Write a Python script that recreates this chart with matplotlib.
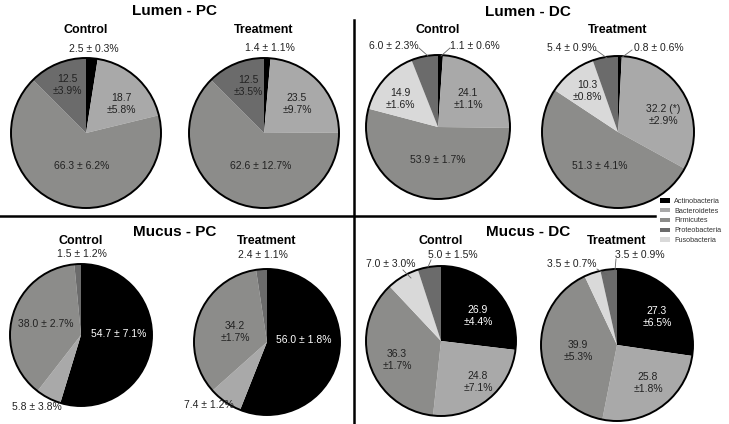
import matplotlib.pyplot as plt
from matplotlib.patches import Circle, Patch
import numpy as np

plt.rcParams['font.family'] = ['Liberation Sans', 'DejaVu Sans']

W, H = 729, 424

# phyla in pie order (clockwise from 12 o'clock)
phyla = ["Actinobacteria", "Bacteroidetes", "Firmicutes", "Fusobacteria", "Proteobacteria"]
colors = {"Actinobacteria": "#000000", "Bacteroidetes": "#a9a9a9", "Firmicutes": "#8c8c8a",
          "Proteobacteria": "#6b6b6b", "Fusobacteria": "#d9d9d9"}
legend_order = ["Actinobacteria", "Bacteroidetes", "Firmicutes", "Proteobacteria", "Fusobacteria"]

# relative abundance (%)
lumen_pc_control = [2.5, 18.7, 66.3, 0.0, 12.5]
lumen_pc_treatment = [1.4, 23.5, 62.6, 0.0, 12.5]
lumen_dc_control = [1.1, 24.1, 53.9, 14.9, 6.0]
lumen_dc_treatment = [0.8, 32.2, 51.3, 10.3, 5.4]
mucus_pc_control = [54.7, 5.8, 38.0, 0.0, 1.5]
mucus_pc_treatment = [56.0, 7.4, 34.2, 0.0, 2.4]
mucus_dc_control = [26.9, 24.8, 36.3, 7.0, 5.0]
mucus_dc_treatment = [27.3, 25.8, 39.9, 3.5, 3.5]

lumen_pc_control_lab = ["2.5 ± 0.3%", "18.7\n±5.8%", "66.3 ± 6.2%", None, "12.5\n±3.9%"]
lumen_pc_treatment_lab = ["1.4 ± 1.1%", "23.5\n±9.7%", "62.6 ± 12.7%", None, "12.5\n±3.5%"]
lumen_dc_control_lab = ["1.1 ± 0.6%", "24.1\n±1.1%", "53.9 ± 1.7%", "14.9\n±1.6%", "6.0 ± 2.3%"]
lumen_dc_treatment_lab = ["0.8 ± 0.6%", "32.2 (*)\n±2.9%", "51.3 ± 4.1%", "10.3\n±0.8%", "5.4 ± 0.9%"]
mucus_pc_control_lab = ["54.7 ± 7.1%", "5.8 ± 3.8%", "38.0 ± 2.7%", None, "1.5 ± 1.2%"]
mucus_pc_treatment_lab = ["56.0 ± 1.8%", "7.4 ± 1.2%", "34.2\n±1.7%", None, "2.4 ± 1.1%"]
mucus_dc_control_lab = ["26.9\n±4.4%", "24.8\n±7.1%", "36.3\n±1.7%", "7.0 ± 3.0%", "5.0 ± 1.5%"]
mucus_dc_treatment_lab = ["27.3\n±6.5%", "25.8\n±1.8%", "39.9\n±5.3%", "3.5 ± 0.7%", "3.5 ± 0.9%"]

# layout: pie centre / radius in pixels, label positions in pixels, leader lines
pies = [
    (lumen_pc_control, lumen_pc_control_lab, (86, 133), 75, "Control",
     [(94, 49), (121, 104), (82, 166), None, (67, 85)], []),
    (lumen_pc_treatment, lumen_pc_treatment_lab, (264, 133), 75, "Treatment",
     [(270, 48), (297, 104), (261, 166), None, (248, 86)], []),
    (lumen_dc_control, lumen_dc_control_lab, (438, 127), 72, "Control",
     [(475, 46), (468, 99), (438, 160), (400, 99), (394, 46)],
     [((450, 48), (441, 56)), ((419, 48), (428, 56))]),
    (lumen_dc_treatment, lumen_dc_treatment_lab, (618, 132), 76, "Treatment",
     [(659, 48), (663, 115), (600, 166), (587, 91), (572, 48)],
     [((632, 50), (621, 58)), ((596, 50), (607, 58))]),
    (mucus_pc_control, mucus_pc_control_lab, (81, 335), 71, "Control",
     [(119, 334), (37, 407), (46, 324), None, (82, 254)], []),
    (mucus_pc_treatment, mucus_pc_treatment_lab, (267, 342), 73, "Treatment",
     [(304, 340), (209, 405), (235, 332), None, (263, 255)], []),
    (mucus_dc_control, mucus_dc_control_lab, (441, 341), 75, "Control",
     [(478, 316), (478, 382), (397, 360), (391, 264), (453, 255)],
     [((403, 270), (411, 278)), ((431, 260), (428, 267))]),
    (mucus_dc_treatment, mucus_dc_treatment_lab, (617, 345), 76, "Treatment",
     [(657, 317), (648, 383), (578, 351), (572, 264), (640, 255)],
     [((597, 269), (607, 275)), ((616, 259), (615, 270))]),
]
subtitle_y = [30, 30, 30, 30, 241, 241, 241, 241]
panel_titles = [("Lumen - PC", 175, 11), ("Lumen - DC", 528, 12),
                ("Mucus - PC", 175, 232), ("Mucus - DC", 528, 232)]

fig = plt.figure(figsize=(W / 100, H / 100), dpi=100)
ax = fig.add_axes([0, 0, 1, 1])

def fy(y):
    return H - y

for i, (vals, labs, (cx, cy), r, sub, lpos, leaders) in enumerate(pies):
    ax.pie(vals, colors=[colors[p] for p in phyla], startangle=90, counterclock=False,
           center=(cx, fy(cy)), radius=r, wedgeprops=dict(linewidth=0), frame=True)
    ax.add_patch(Circle((cx, fy(cy)), r, fill=False, edgecolor="black", lw=1.4, zorder=3))
    for j, lab in enumerate(labs):
        if lab is None:
            continue
        tc = "white" if (phyla[j] == "Actinobacteria" and vals[j] > 20) else "#222222"
        ax.text(lpos[j][0], fy(lpos[j][1]), lab, ha="center", va="center", fontsize=7.5,
                color=tc, linespacing=1.35, zorder=4)
    for (x0, y0), (x1, y1) in leaders:
        ax.plot([x0, x1], [fy(y0), fy(y1)], color="#666666", lw=0.6, zorder=4)
    ax.text(cx, fy(subtitle_y[i]), sub, ha="center", va="center", fontsize=9,
            fontweight="bold", zorder=4)

for t, x, y in panel_titles:
    ax.text(x, fy(y), t, ha="center", va="center", fontsize=11, fontweight="bold", zorder=5)

# divider lines
ax.plot([354, 354], [fy(20), fy(424)], color="black", lw=1.8, zorder=5)
ax.plot([0, 655], [fy(216), fy(216)], color="black", lw=1.8, zorder=5)

handles = [Patch(facecolor=colors[p], edgecolor="none", label=p) for p in legend_order]
leg = ax.legend(handles=handles, loc="upper left", bbox_to_anchor=(660 / W, fy(198) / H),
                frameon=False, fontsize=5.2, handlelength=1.4, handleheight=0.55,
                handletextpad=0.6, labelspacing=0.38, borderpad=0, borderaxespad=0)
for txt in leg.get_texts():
    txt.set_color("#333333")

ax.set_xlim(0, W)
ax.set_ylim(0, H)
ax.set_aspect("auto")
ax.axis("off")

fig.savefig("out.png", dpi=100)
